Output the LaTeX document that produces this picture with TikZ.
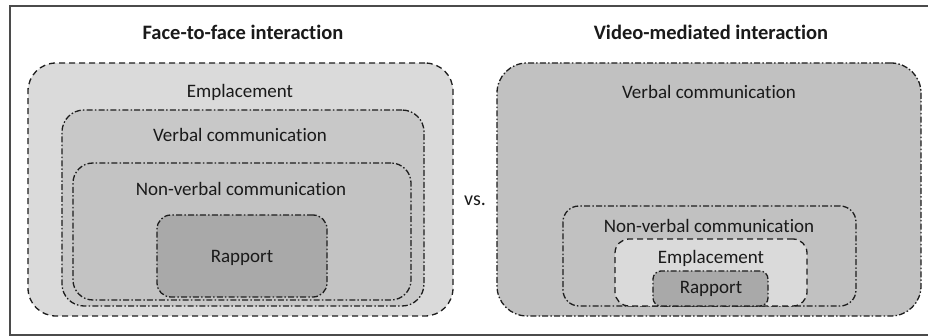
\documentclass[tikz,border=0pt]{standalone}
\usepackage{fontspec}
\setmainfont{Carlito}[Ligatures={NoCommon}]
\definecolor{empfill}{HTML}{DADADA}
\definecolor{verbfill}{HTML}{C8C8C8}
\definecolor{nonvfill}{HTML}{C3C3C3}
\definecolor{verbRfill}{HTML}{C1C1C1}
\definecolor{rapfill}{HTML}{A9A9A9}
\definecolor{txt}{HTML}{1A1A1A}
\definecolor{edge}{HTML}{1E1E1E}
\tikzset{
  boxbase/.style={draw=edge, line width=1.3pt, anchor=north west, inner sep=0pt, outer sep=0pt},
  dashbox/.style={boxbase, dash pattern=on 6pt off 4pt},
  dotbox/.style={boxbase, dash pattern=on 6pt off 2.2pt on 1.5pt off 2.2pt},
  lbl/.style={text=txt, font=\fontsize{19}{22}\selectfont, inner sep=0pt},
  ttl/.style={text=txt, font=\bfseries\fontsize{20.5}{24}\selectfont, inner sep=0pt}
}
\begin{document}
\begin{tikzpicture}[x=1pt,y=-1pt]
\useasboundingbox (0,0) rectangle (928,336);
\fill[white] (0,0) rectangle (928,336);
\node[draw=edge!80, line width=1.6pt, anchor=north west, inner sep=0pt, minimum width=940pt, minimum height=329pt] (frame) at (9,5) {};

% Left panel
\node[ttl] (titleL) at (243,32) {Face-to-face interaction};
\node[dashbox, fill=empfill, rounded corners=28pt, minimum width=425pt, minimum height=253pt] (empL) at (28,63) {};
\node[dotbox, fill=verbfill, rounded corners=22pt, minimum width=362pt, minimum height=196pt] (verbL) at (62,110) {};
\node[dotbox, fill=nonvfill, rounded corners=20pt, minimum width=338pt, minimum height=137pt] (nonvL) at (73,163) {};
\node[dotbox, fill=rapfill, rounded corners=14pt, minimum width=170pt, minimum height=82pt] (rapL) at (157,215) {};
\node[lbl] (tEmpL) at (240,92) {Emplacement};
\node[lbl] (tVerbL) at (240,135) {Verbal communication};
\node[lbl] (tNonvL) at (241,189) {Non-verbal communication};
\node[lbl] (tRapL) at (242,258) {Rapport};

% vs.
\node[lbl, font=\fontsize{20}{24}\selectfont] (vs) at (475,201) {vs.};

% Right panel
\node[ttl] (titleR) at (711,32) {Video-mediated interaction};
\node[dotbox, fill=verbRfill, rounded corners=30pt, minimum width=424pt, minimum height=253pt] (verbR) at (497,63) {};
\node[dotbox, fill=verbRfill, rounded corners=16pt, minimum width=293pt, minimum height=100pt] (nonvR) at (563,206) {};
\node[dashbox, fill=empfill, rounded corners=14pt, minimum width=192pt, minimum height=67pt] (empR) at (615,239) {};
\node[dotbox, fill=rapfill, rounded corners=8pt, minimum width=115pt, minimum height=35pt] (rapR) at (653,271) {};
\node[lbl] (tVerbR) at (709,92) {Verbal communication};
\node[lbl] (tNonvR) at (709,226) {Non-verbal communication};
\node[lbl] (tEmpR) at (711,258) {Emplacement};
\node[lbl] (tRapR) at (711,289) {Rapport};
\end{tikzpicture}
\end{document}
